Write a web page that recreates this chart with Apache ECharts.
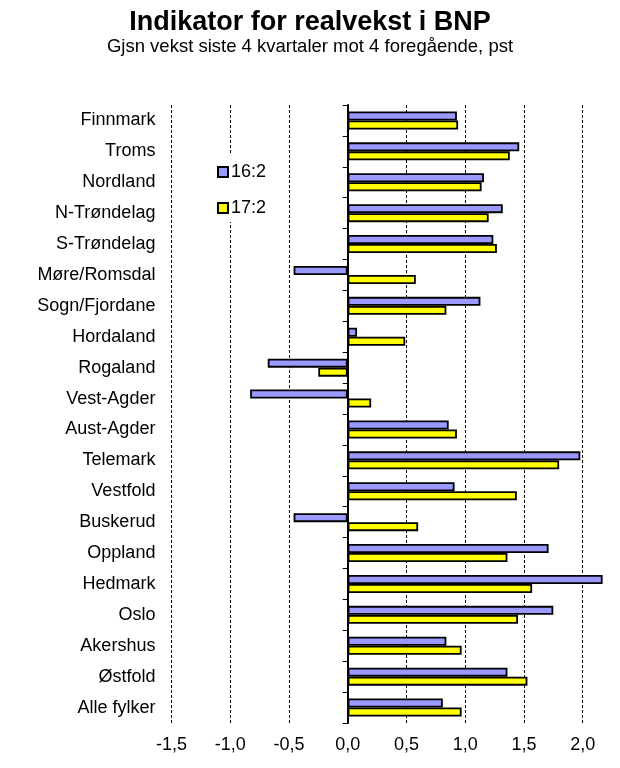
<!DOCTYPE html>
<html>
<head>
<meta charset="utf-8">
<script src="https://cdn.jsdelivr.net/npm/echarts@6/dist/echarts.min.js"></script>
<style>
html,body{margin:0;padding:0;background:#fff;}
#c{width:620px;height:768px;}
</style>
</head>
<body>
<div id="c"></div>
<script>
var categories = ['Finnmark','Troms','Nordland','N-Trøndelag','S-Trøndelag','Møre/Romsdal','Sogn/Fjordane','Hordaland','Rogaland','Vest-Agder','Aust-Agder','Telemark','Vestfold','Buskerud','Oppland','Hedmark','Oslo','Akershus','Østfold','Alle fylker'];
var series16 = [0.93,1.46,1.16,1.32,1.24,-0.46,1.13,0.08,-0.68,-0.83,0.86,1.98,0.91,-0.46,1.71,2.17,1.75,0.84,1.36,0.81];
var series17 = [0.94,1.38,1.14,1.20,1.27,0.58,0.84,0.49,-0.25,0.20,0.93,1.80,1.44,0.60,1.36,1.57,1.45,0.97,1.53,0.97];
var seriesNames = ['16:2','17:2'];
var xTicks = ['-1,5','-1,0','-0,5','0,0','0,5','1,0','1,5','2,0'];

var FONT = "'Liberation Sans', Arial, sans-serif";
var chart = echarts.init(document.getElementById('c'), null, {renderer:'canvas'});
chart.setOption({
  animation: false,
  backgroundColor: '#fff',
  title: {
    text: 'Indikator for realvekst i BNP',
    subtext: 'Gjsn vekst siste 4 kvartaler mot 4 foregående, pst',
    left: 'center',
    top: 4,
    itemGap: 1,
    textStyle: {fontFamily: FONT, fontSize: 27, fontWeight: 'bold', color: '#000'},
    subtextStyle: {fontFamily: FONT, fontSize: 18.5, color: '#000'}
  },
  legend: {
    orient: 'vertical',
    left: 207,
    top: 153,
    padding: [10, 5, 5, 10],
    backgroundColor: '#fff',
    itemWidth: 10,
    itemHeight: 10,
    itemGap: 18,
    icon: 'rect',
    textStyle: {fontFamily: FONT, fontSize: 18, color: '#000', padding: [0,0,0,-2]},
    data: seriesNames
  },
  grid: {left: 171.4, right: 13.85, top: 105, bottom: 45, containLabel: false},
  xAxis: {
    type: 'value',
    min: -1.5, max: 2.2, interval: 0.5,
    axisLine: {show: false},
    axisTick: {show: false},
    splitLine: {show: true, showMaxLine: false, lineStyle: {color: '#000', width: 1, type: [3, 2]}},
    axisLabel: {
      fontFamily: FONT, fontSize: 18, color: '#000', margin: 13, showMaxLabel: false,
      formatter: function (v) {
        var i = Math.round((v + 1.5) / 0.5);
        if (Math.abs(v - (-1.5 + i * 0.5)) > 1e-6) return '';
        return (i >= 0 && i < xTicks.length) ? xTicks[i] : '';
      }
    }
  },
  yAxis: [{
    type: 'category',
    data: categories,
    inverse: true,
    position: 'left',
    axisLine: {show: false, onZero: false},
    axisTick: {show: false},
    axisLabel: {fontFamily: FONT, fontSize: 18, color: '#000', margin: 16}
  }, {
    type: 'category',
    data: categories,
    inverse: true,
    position: 'right',
    axisLine: {show: true, onZero: true, lineStyle: {color: '#000', width: 2}},
    axisTick: {show: true, inside: true, length: 5, lineStyle: {color: '#000', width: 1}},
    axisLabel: {show: false},
    splitLine: {show: false}
  }],
  series: [{
    name: seriesNames[0],
    type: 'bar',
    data: series16,
    barWidth: 9,
    barGap: 0,
    itemStyle: {color: '#9999FF', borderColor: '#000', borderWidth: 1.8}
  }, {
    name: seriesNames[1],
    type: 'bar',
    data: series17,
    barWidth: 9,
    barGap: 0,
    itemStyle: {color: '#FFFF00', borderColor: '#000', borderWidth: 1.8}
  }]
});
</script>
</body>
</html>
